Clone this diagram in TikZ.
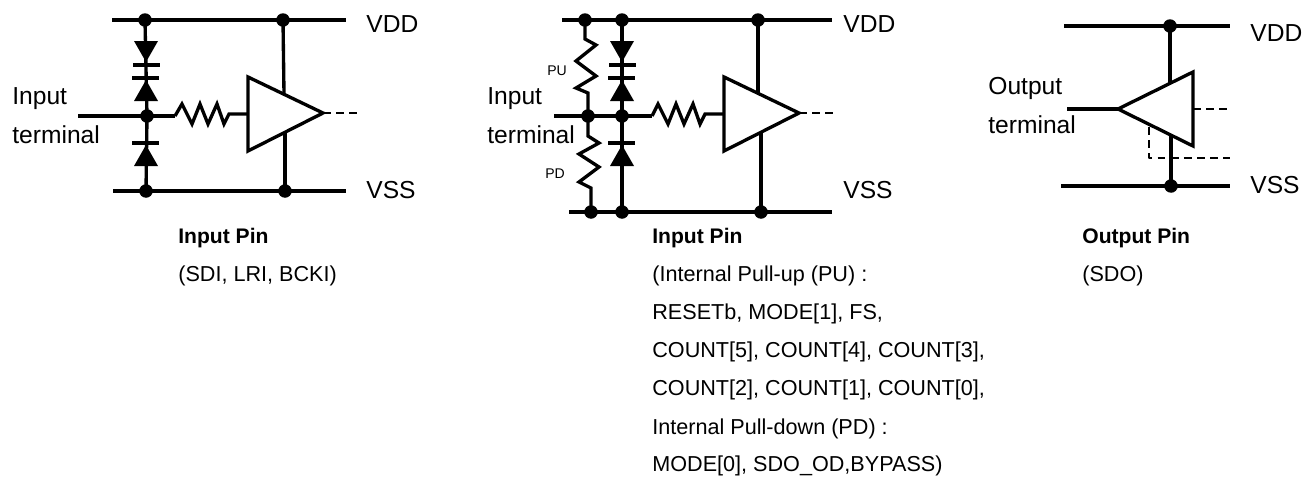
\documentclass[tikz,border=0pt]{standalone}
\usepackage{fontspec}
\setmainfont{Liberation Sans}
\usepackage{xcolor}
\usetikzlibrary{positioning}
\tikzset{
  wire/.style={line width=1.9pt},
  thinwire/.style={line width=0.9pt,dash pattern=on 4.5pt off 3pt},
  bigtext/.style={anchor=base west,inner sep=0pt,font=\fontsize{14}{14}\selectfont},
  captext/.style={anchor=base west,inner sep=0pt,font=\fontsize{12.3}{12}\selectfont},
  boldtext/.style={anchor=base west,inner sep=0pt,font=\fontsize{12}{12}\selectfont\bfseries},
  smalltext/.style={anchor=base west,inner sep=0pt,font=\fontsize{8}{8}\selectfont},
  pics/diodedown/.style={code={
    \fill (-12,-11)--(12,-11)--(0,10)--cycle;
    \draw[line width=1.8pt] (-13,13)--(14,13);
  }},
  pics/diodeup/.style={code={
    \fill (-12,11)--(12,11)--(0,-10)--cycle;
    \draw[line width=1.8pt] (-14,-12)--(13,-12);
  }}
}
\begin{document}
\begin{tikzpicture}[x=0.02cm,y=-0.02cm,line join = round, line cap = butt]
  \useasboundingbox (0,0) rectangle (1305,477);
  % left panel
  \coordinate (avdda) at (112,20);
  \coordinate (avddb) at (346,20);
  \coordinate (avssa) at (113,191);
  \coordinate (avssb) at (346,191);
  \coordinate (atopd) at (145,20);
  \coordinate (atopb) at (283,20);
  \coordinate (abotd) at (146,191);
  \coordinate (abotb) at (285,191);
  \coordinate (ain) at (78,116);
  \coordinate (aj) at (147,116);
  \coordinate (ara) at (175,116);
  \coordinate (arb) at (229,114);
  \coordinate (atria) at (248,77);
  \coordinate (atrib) at (248,151);
  \coordinate (atric) at (323,113);
  \coordinate (atrim) at (248,114);
  \coordinate (abufa) at (284,94);
  \coordinate (abufb) at (285,133);
  \coordinate (aout) at (360,113);
  \draw[wire] (avdda)--(avddb);
  \draw[wire] (avssa)--(avssb);
  \draw[wire] (atopd)--(aj)--(abotd);
  \draw[wire] (ain)--(aj)--(ara);
  \draw[wire,line join=miter] (ara)--(182,104)--(192,124)--(200,104)--(208,124)--(217,104)--(224,124)--(arb)--(atrim);
  \draw[wire] (atopb)--(abufa);
  \draw[wire] (abufb)--(abotb);
  \draw[wire,fill=white,line join=miter] (atria)--(atrib)--(atric)--cycle;
  \draw[thinwire] (atric)--(aout);
  \foreach \p in {atopd,atopb,abotd,abotb,aj} \fill (\p) circle [radius=0.135cm];
  \pic at (146,52) {diodedown};
  \pic at (146,90) {diodeup};
  \pic at (146,155) {diodeup};
  \node[bigtext] (avddl) at (366,32) {VDD};
  \node[bigtext] (avssl) at (366,198) {VSS};
  \node[bigtext] (ainl) at (12,104) {Input};
  \node[bigtext] (aterm) at (12,143) {terminal};
  \node[boldtext] (acapa) at (178,243) {Input Pin};
  \node[captext] (acapb) at (178,281) {(SDI, LRI, BCKI)};
  % middle panel
  \coordinate (bvdda) at (562,20);
  \coordinate (bvddb) at (832,20);
  \coordinate (bvssa) at (569,212);
  \coordinate (bvssb) at (832,212);
  \coordinate (btopr) at (585,20);
  \coordinate (btopd) at (622,20);
  \coordinate (btopb) at (758,20);
  \coordinate (bbotr) at (591,212);
  \coordinate (bbotd) at (622,212);
  \coordinate (bbotb) at (761,212);
  \coordinate (bin) at (554,116);
  \coordinate (bjr) at (588,116);
  \coordinate (bjd) at (622,116);
  \coordinate (bra) at (652,116);
  \coordinate (brb) at (705,114);
  \coordinate (btria) at (724,77);
  \coordinate (btrib) at (724,151);
  \coordinate (btric) at (799,113);
  \coordinate (btrim) at (724,114);
  \coordinate (bbufa) at (758,94);
  \coordinate (bbufb) at (761,133);
  \coordinate (bout) at (835,113);
  \draw[wire] (bvdda)--(bvddb);
  \draw[wire] (bvssa)--(bvssb);
  \draw[wire] (btopd)--(bjd)--(bbotd);
  \draw[wire] (bin)--(bjd)--(bra);
  \draw[wire,line join=miter] (btopr)--(585,39)--(596,45)--(576,61)--(596,76)--(576,88)--(588,93)--(bjr);
  \draw[wire,line join=miter] (bjr)--(588,136)--(599,143)--(579,154)--(599,167)--(579,182)--(591,188)--(bbotr);
  \draw[wire,line join=miter] (bra)--(658,104)--(668,124)--(676,104)--(684,124)--(693,104)--(700,124)--(brb)--(btrim);
  \draw[wire] (btopb)--(bbufa);
  \draw[wire] (bbufb)--(bbotb);
  \draw[wire,fill=white,line join=miter] (btria)--(btrib)--(btric)--cycle;
  \draw[thinwire] (btric)--(bout);
  \foreach \p in {btopr,btopd,btopb,bbotr,bbotd,bbotb,bjr,bjd} \fill (\p) circle [radius=0.135cm];
  \pic at (622,52) {diodedown};
  \pic at (622,90) {diodeup};
  \pic at (622,155) {diodeup};
  \node[bigtext] (bvddl) at (843,32) {VDD};
  \node[bigtext] (bvssl) at (843,198) {VSS};
  \node[bigtext] (binl) at (487,104) {Input};
  \node[bigtext] (bterm) at (487,143) {terminal};
  \node[smalltext] (bpu) at (547,75) {PU};
  \node[smalltext] (bpd) at (545,178) {PD};
  \node[boldtext] (bcapa) at (652,243) {Input Pin};
  \node[captext] (bcapb) at (652,281) {(Internal Pull-up (PU) :};
  \node[captext] (bcapc) at (652,319) {RESETb, MODE[1], FS,};
  \node[captext] (bcapd) at (652,357) {COUNT[5], COUNT[4], COUNT[3],};
  \node[captext] (bcape) at (652,395) {COUNT[2], COUNT[1], COUNT[0],};
  \node[captext] (bcapf) at (652,434) {Internal Pull-down (PD) :};
  \node[captext] (bcapg) at (652,471) {MODE[0], SDO\_OD,BYPASS)};
  % right panel
  \coordinate (cvdda) at (1064,26);
  \coordinate (cvddb) at (1230,26);
  \coordinate (cvssa) at (1061,186);
  \coordinate (cvssb) at (1230,186);
  \coordinate (ctopb) at (1170,26);
  \coordinate (cbotb) at (1171,186);
  \coordinate (cout) at (1067,109);
  \coordinate (ctria) at (1193,72);
  \coordinate (ctrib) at (1193,146);
  \coordinate (ctric) at (1118,109);
  \coordinate (cbufa) at (1170,84);
  \coordinate (cbufb) at (1171,134);
  \coordinate (cdsa) at (1193,109);
  \coordinate (cdsb) at (1230,109);
  \coordinate (cdsc) at (1149,127);
  \coordinate (cdsd) at (1149,158);
  \coordinate (cdse) at (1230,158);
  \draw[wire] (cvdda)--(cvddb);
  \draw[wire] (cvssa)--(cvssb);
  \draw[wire] (cout)--(ctric);
  \draw[wire] (ctopb)--(cbufa);
  \draw[thinwire] (cdsc)--(cdsd)--(cdse);
  \draw[wire] (cbufb)--(cbotb);
  \draw[wire,fill=white,line join=miter] (ctria)--(ctrib)--(ctric)--cycle;
  \draw[thinwire] (cdsa)--(cdsb);
  \foreach \p in {ctopb,cbotb} \fill (\p) circle [radius=0.135cm];
  \node[bigtext] (cvddl) at (1250,41) {VDD};
  \node[bigtext] (cvssl) at (1250,193) {VSS};
  \node[bigtext] (coutl) at (988,94) {Output};
  \node[bigtext] (cterm) at (988,133) {terminal};
  \node[boldtext] (ccapa) at (1082,243) {Output Pin};
  \node[captext] (ccapb) at (1082,281) {(SDO)};
\end{tikzpicture}
\end{document}
